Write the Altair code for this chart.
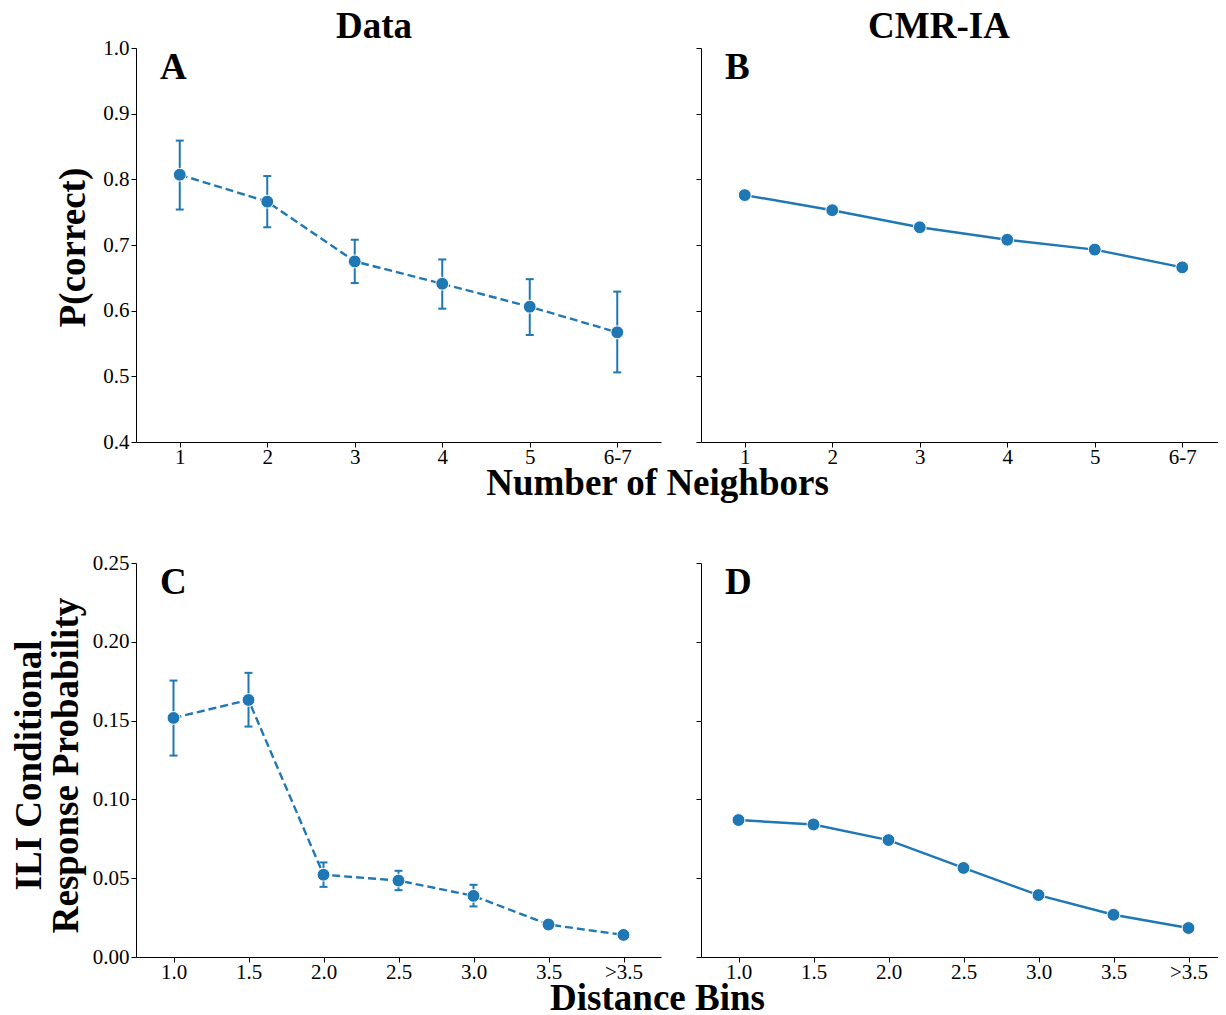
import altair as alt
import pandas as pd

# ---- data ----
neighbors = ["1", "2", "3", "4", "5", "6-7"]
data_pc = [0.807, 0.766, 0.675, 0.641, 0.606, 0.567]
data_pc_lo = [0.754, 0.727, 0.642, 0.603, 0.563, 0.506]
data_pc_hi = [0.859, 0.805, 0.708, 0.678, 0.648, 0.629]
model_pc = [0.776, 0.753, 0.727, 0.708, 0.693, 0.666]

bins = ["1.0", "1.5", "2.0", "2.5", "3.0", "3.5", ">3.5"]
data_crp = [0.1517, 0.1631, 0.0522, 0.0485, 0.0388, 0.0206, 0.0140]
data_crp_lo = [0.1278, 0.1462, 0.0445, 0.0424, 0.0321, 0.0200, 0.0135]
data_crp_hi = [0.1754, 0.1803, 0.0600, 0.0547, 0.0458, 0.0212, 0.0145]
model_crp = [0.0869, 0.0841, 0.0742, 0.0565, 0.0393, 0.0268, 0.0184]

pc_ticks = [0.4, 0.5, 0.6, 0.7, 0.8, 0.9, 1.0]
crp_ticks = [0.0, 0.05, 0.10, 0.15, 0.20, 0.25]

BLUE = "#1f77b4"
FONT = "Liberation Serif"
W, H = 525, 394

AX = dict(labelFont=FONT, labelFontSize=21, labelColor="black",
          titleFont=FONT, titleFontSize=37, titleFontWeight="bold",
          titleColor="black", domainColor="black", domainWidth=1,
          tickColor="black", tickWidth=1, tickSize=5, grid=False)


def panel(cats, mean, lo, hi, dashed, ydom, yticks, yfmt, letter,
          title=None, ytitle=None, xtitle=None, ylabels=True):
    df = pd.DataFrame({"cat": cats, "mean": mean})
    xaxis_kw = dict(AX, labelAngle=0, labelPadding=-1)
    if xtitle:
        xaxis_kw.update(title=xtitle, titleX=521, titleY=52,
                        titleBaseline="alphabetic", titleAlign="center")
    else:
        xaxis_kw.update(title=None)
    x = alt.X("cat:N", sort=cats,
              scale=alt.Scale(type="point", padding=0.5),
              axis=alt.Axis(**xaxis_kw))
    yaxis_kw = dict(AX, values=yticks, format=yfmt, labelPadding=2)
    if ytitle:
        yaxis_kw.update(title=ytitle, titleAngle=270, titleBaseline="alphabetic",
                        titleAlign="center")
        if isinstance(ytitle, list):
            yaxis_kw.update(titleX=-96, titleY=202, titleLineHeight=37)
        else:
            yaxis_kw.update(titleX=-52, titleY=199)
    else:
        yaxis_kw.update(title=None)
    if not ylabels:
        yaxis_kw.update(labels=False)
    yscale = alt.Scale(domain=ydom, nice=False, zero=False)
    base = alt.Chart(df)
    line_kw = dict(color=BLUE, strokeWidth=2.4)
    if dashed:
        line_kw["strokeDash"] = [8, 4]
    line = base.mark_line(**line_kw).encode(
        x=x, y=alt.Y("mean:Q", scale=yscale, axis=alt.Axis(**yaxis_kw)))
    layers = [line]
    if lo is not None:
        edf = pd.DataFrame({"cat": cats, "lo": lo, "hi": hi})
        eb = alt.Chart(edf)
        rule = eb.mark_rule(color=BLUE, strokeWidth=2).encode(
            x=x, y=alt.Y("lo:Q", scale=yscale), y2="hi:Q")
        cap_lo = eb.mark_tick(color=BLUE, size=8, thickness=2, opacity=1).encode(
            x=x, y=alt.Y("lo:Q", scale=yscale))
        cap_hi = eb.mark_tick(color=BLUE, size=8, thickness=2, opacity=1).encode(
            x=x, y=alt.Y("hi:Q", scale=yscale))
        layers += [rule, cap_lo, cap_hi]
    pts = base.mark_point(filled=True, size=165, color=BLUE, opacity=1,
                          stroke="white", strokeWidth=1).encode(
        x=x, y=alt.Y("mean:Q", scale=yscale))
    layers.append(pts)
    lab = alt.Chart(pd.DataFrame({"t": [letter]})).mark_text(
        font=FONT, fontSize=37, fontWeight="bold", align="left",
        baseline="alphabetic", color="black").encode(
        text="t:N", x=alt.value(24), y=alt.value(31))
    layers.append(lab)
    if title:
        ttl = alt.Chart(pd.DataFrame({"t": [title]})).mark_text(
            font=FONT, fontSize=37, fontWeight="bold", align="center",
            baseline="alphabetic", color="black").encode(
            text="t:N", x=alt.value(238), y=alt.value(-10))
        layers.append(ttl)
    return alt.layer(*layers).properties(width=W, height=H)


pA = panel(neighbors, data_pc, data_pc_lo, data_pc_hi, True, [0.4, 1.0], pc_ticks,
           ".1f", "A", title="Data", ytitle="P(correct)", xtitle="Number of Neighbors")
pB = panel(neighbors, model_pc, None, None, False, [0.4, 1.0], pc_ticks,
           ".1f", "B", title="CMR-IA", ylabels=False)
pC = panel(bins, data_crp, data_crp_lo, data_crp_hi, True, [0.0, 0.25], crp_ticks,
           ".2f", "C", ytitle=["ILI Conditional", "Response Probability"],
           xtitle="Distance Bins")
pD = panel(bins, model_crp, None, None, False, [0.0, 0.25], crp_ticks,
           ".2f", "D", ylabels=False)

chart = alt.concat(pA, pB, pC, pD, columns=2,
                   spacing=alt.RowColnumber(row=121, column=40),
                   bounds="flush").properties(
    padding={"left": 2, "top": 0, "right": -8, "bottom": 0}
).configure_view(stroke=None)

chart.save("out.html", embed_options={"renderer": "svg", "actions": False})
